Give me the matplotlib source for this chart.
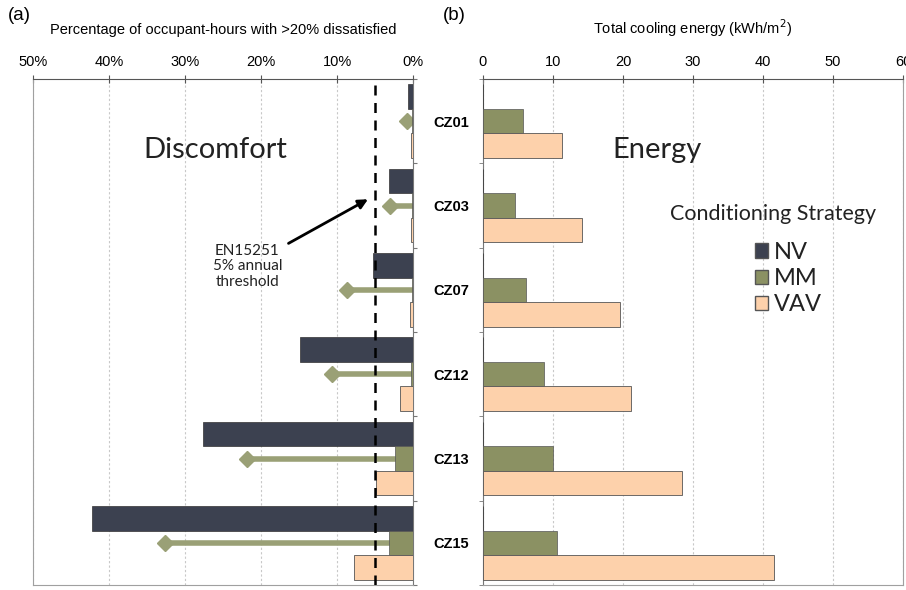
import matplotlib
matplotlib.use('Agg')
import numpy as np
import matplotlib.pyplot as plt
from matplotlib.patches import Patch

plt.rcParams['font.family'] = ['Liberation Sans', 'DejaVu Sans']

zones = ['CZ01', 'CZ03', 'CZ07', 'CZ12', 'CZ13', 'CZ15']

# (a) discomfort, % of occupant-hours with >20% dissatisfied
nv_disc = [0.7, 3.2, 5.3, 14.9, 27.6, 42.2]
mm_disc = [0.1, 0.1, 0.1, 0.3, 2.4, 3.2]
mm_arrow = [0.8, 3.0, 8.7, 10.7, 21.8, 32.6]
vav_disc = [0.2, 0.2, 0.4, 1.7, 4.9, 7.8]
threshold = 5

# (b) total cooling energy, kWh/m2
nv_energy = [0, 0, 0, 0, 0, 0]
mm_energy = [5.7, 4.6, 6.1, 8.7, 10.0, 10.6]
vav_energy = [11.3, 14.1, 19.6, 21.1, 28.4, 41.6]

c_nv = '#3c4150'
c_mm = '#8b9163'
c_vav = '#fdd1ab'
c_arrow = '#9aa076'
c_spine = '#a0a0a0'

fig = plt.figure(figsize=(9.06, 5.90), dpi=100)
ax1 = fig.add_axes([33 / 906, 5 / 590, 380 / 906, 506 / 590])
ax2 = fig.add_axes([483 / 906, 5 / 590, 420 / 906, 506 / 590])

y = np.arange(len(zones))
h = 0.29

# left panel
ax1.barh(y - h, nv_disc, h, color=c_nv, edgecolor='#333333', lw=0.5, zorder=3)
for i in range(len(zones)):
    ax1.plot([0, mm_arrow[i]], [y[i], y[i]], color=c_arrow, lw=4, zorder=2,
             solid_capstyle='butt')
    ax1.plot(mm_arrow[i], y[i], marker='D', ms=8, color=c_arrow, zorder=2)
ax1.barh(y, mm_disc, h, color=c_mm, edgecolor='#555555', lw=0.5, zorder=3)
ax1.barh(y + h, vav_disc, h, color=c_vav, edgecolor='#555555', lw=0.6, zorder=3)
ax1.axvline(threshold, color='black', lw=1.8, ls=(0, (4, 3)), zorder=4)

ax1.set_xlim(50, 0)
ax1.set_ylim(5.5, -0.5)
ax1.set_xticks(np.arange(0, 51, 10))
ax1.set_xticklabels(['%d%%' % v for v in range(0, 51, 10)], fontsize=10.5)
ax1.xaxis.tick_top()
ax1.xaxis.set_label_position('top')
ax1.set_xlabel('Percentage of occupant-hours with >20% dissatisfied',
               fontsize=10.5, labelpad=15)
ax1.tick_params(axis='x', direction='inout', length=6, color='#555555', pad=4)
ax1.yaxis.tick_right()
ax1.set_yticks(np.arange(-0.5, 6, 1))
ax1.set_yticklabels([])
ax1.tick_params(axis='y', direction='out', length=3, color='#777777')
ax1.grid(axis='x', ls=(0, (2, 2)), color='#c8c8c8', lw=0.8, zorder=0)
for s in ['left', 'bottom']:
    ax1.spines[s].set_color(c_spine)
ax1.spines['top'].set_color('#555555')
ax1.spines['right'].set_color('#777777')

ax1.text(26.0, 0.34, 'Discomfort', fontsize=21, family='Lato', ha='center',
         va='center', color='#222222')
ax1.annotate('EN15251\n5% annual\nthreshold', xy=(5.6, 0.91), xytext=(21.8, 1.72),
             fontsize=11, family='Lato', ha='center', va='center', linespacing=1.15,
             color='#222222',
             arrowprops=dict(arrowstyle='-|>', color='black', lw=2,
                             shrinkA=3, mutation_scale=14))

# right panel
ax2.barh(y - h, nv_energy, h, color=c_nv, edgecolor='#333333', lw=0.5, zorder=3)
ax2.barh(y, mm_energy, h, color=c_mm, edgecolor='#555555', lw=0.5, zorder=3)
ax2.barh(y + h, vav_energy, h, color=c_vav, edgecolor='#555555', lw=0.6, zorder=3)

ax2.set_xlim(0, 60)
ax2.set_ylim(5.5, -0.5)
ax2.set_xticks(np.arange(0, 61, 10))
ax2.tick_params(axis='x', labelsize=10.5)
ax2.xaxis.tick_top()
ax2.xaxis.set_label_position('top')
ax2.set_xlabel('Total cooling energy (kWh/m$^2$)', fontsize=10.5, labelpad=15)
ax2.tick_params(axis='x', direction='inout', length=6, color='#555555', pad=4)
ax2.set_yticks(y)
ax2.set_yticklabels(zones, fontsize=10.5, fontweight='bold')
ax2.set_yticks(np.arange(-0.5, 6, 1), minor=True)
ax2.tick_params(axis='y', which='major', length=0, pad=10)
ax2.tick_params(axis='y', which='minor', direction='out', length=3, color='#777777')
ax2.grid(axis='x', ls=(0, (2, 2)), color='#c8c8c8', lw=0.8, zorder=0)
for s in ['right', 'bottom']:
    ax2.spines[s].set_color(c_spine)
ax2.spines['top'].set_color('#555555')
ax2.spines['left'].set_color('#777777')

ax2.text(24.9, 0.34, 'Energy', fontsize=21, family='Lato', ha='center',
         va='center', color='#222222')

fig.text(773 / 906, 1 - 214 / 590, 'Conditioning Strategy', fontsize=15.5,
         family='Lato', ha='center', va='center', color='#222222')
handles = [Patch(facecolor=c_nv, edgecolor='#555555', label='NV'),
           Patch(facecolor=c_mm, edgecolor='#555555', label='MM'),
           Patch(facecolor=c_vav, edgecolor='#555555', label='VAV')]
leg = fig.legend(handles=handles, loc='upper left',
                 bbox_to_anchor=(743 / 906, 1 - 230 / 590), frameon=False,
                 prop={'family': 'Lato', 'size': 17}, handlelength=0.55,
                 handleheight=0.55, handletextpad=0.25, labelspacing=0.22,
                 borderpad=0)
for t in leg.get_texts():
    t.set_color('#222222')

fig.text(8 / 906, 1 - 16 / 590, '(a)', fontsize=13.5, va='center')
fig.text(443 / 906, 1 - 16 / 590, '(b)', fontsize=13.5, va='center')

fig.savefig('out.png', dpi=100)
